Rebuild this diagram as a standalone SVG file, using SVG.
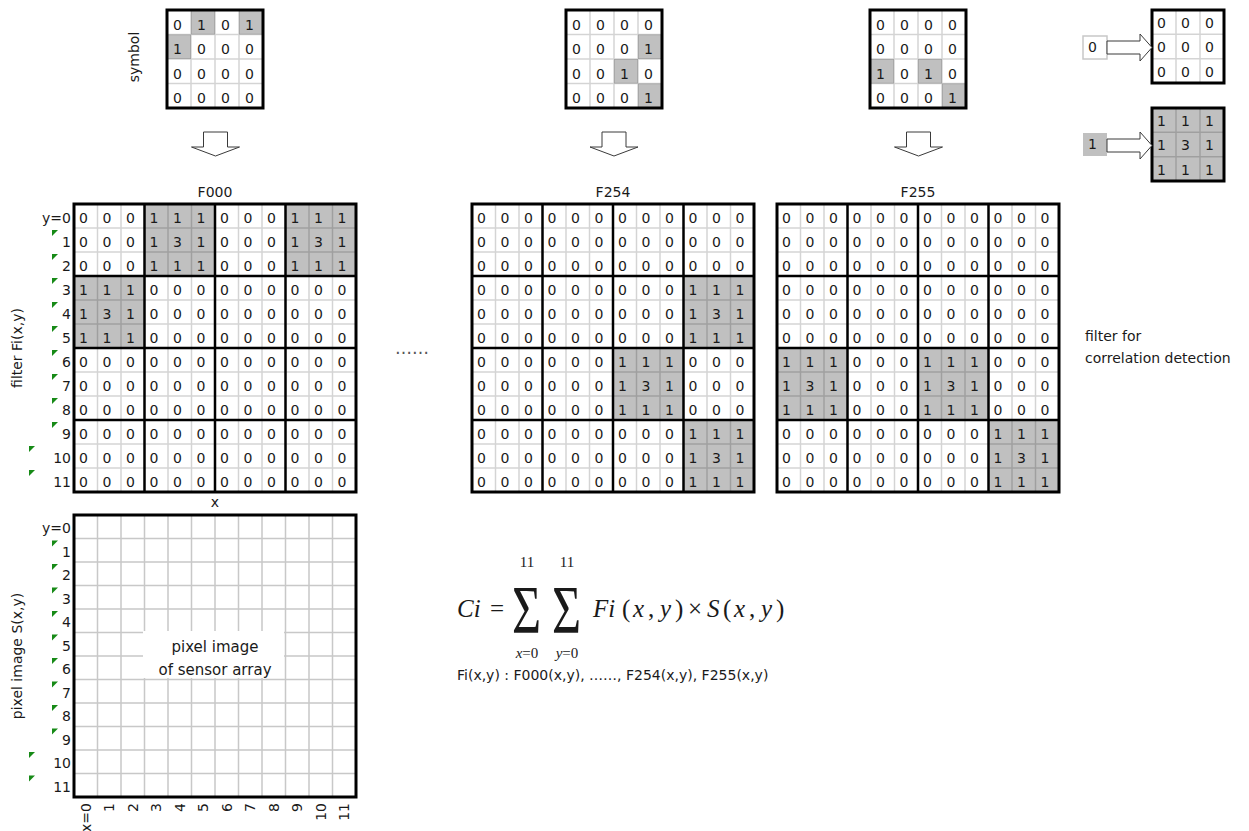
<svg xmlns="http://www.w3.org/2000/svg" width="1249" height="831" viewBox="0 0 1249 831">
<style>
text{font-family:"DejaVu Sans","Liberation Sans",sans-serif;fill:#1a1a1a;font-size:14px}
.thin{fill:none;stroke:#000;stroke-opacity:.17;stroke-width:1.5}
.thick{fill:none;stroke:#000;stroke-width:2.5}
.border{fill:none;stroke:#000;stroke-width:3}
.sh{fill:#c0c0c0}
.arr{fill:#fff;stroke:#3a3a3a;stroke-width:1}
.m{font-family:"Liberation Serif","Times New Roman",serif;font-size:25px}
.ms{font-family:"Liberation Serif","Times New Roman",serif;font-size:15px}
.sig{font-family:"Liberation Serif","Times New Roman",serif;font-size:50px}
.i{font-style:italic}
.pg{fill:none;stroke:#c8c8c8;stroke-width:1.5}
.tri{fill:#178a17}
.c{text-anchor:middle}
.e{text-anchor:end}
.big{font-size:15px}
</style>
<defs>
<path id="fthin" class="thin" d="M23.5 0V288M47 0V288M94 0V288M117.5 0V288M164.5 0V288M188 0V288M235 0V288M258.5 0V288M0 24H282M0 48H282M0 96H282M0 120H282M0 168H282M0 192H282M0 240H282M0 264H282"/>
<path id="fthick" class="thick" d="M70.5 0V288M141 0V288M211.5 0V288M0 72H282M0 144H282M0 216H282"/>
<rect id="fborder" class="border" width="282" height="288"/>
<path id="sthin" class="thin" d="M24 0V98M48 0V98M72 0V98M0 24.5H96M0 49H96M0 73.5H96"/>
<rect id="sborder" class="border" width="96" height="98"/>
<path id="kthin" class="thin" d="M24 0V73M48 0V73M0 24.3H72M0 48.7H72"/>
<rect id="kborder" class="border" width="72" height="73"/>
<path id="tri" class="tri" d="M0 0h6L0 6z"/>
</defs>

<g id="symbol-label"><text class="c" transform="translate(139,57) rotate(-90)">symbol</text></g>

<g id="symbol-F000" transform="translate(167,10)">
<rect class="sh" x="24" y="0" width="24" height="24.5"/>
<rect class="sh" x="72" y="0" width="24" height="24.5"/>
<rect class="sh" x="0" y="24.5" width="24" height="24.5"/>
<use href="#sthin"/><use href="#sborder"/>
<text x="6 30 54 78" y="19.5">0101</text>
<text x="6 30 54 78" y="44">1000</text>
<text x="6 30 54 78" y="68.5">0000</text>
<text x="6 30 54 78" y="93">0000</text>
</g>

<g id="symbol-F254" transform="translate(566,10)">
<rect class="sh" x="72" y="24.5" width="24" height="24.5"/>
<rect class="sh" x="48" y="49" width="24" height="24.5"/>
<rect class="sh" x="72" y="73.5" width="24" height="24.5"/>
<use href="#sthin"/><use href="#sborder"/>
<text x="6 30 54 78" y="19.5">0000</text>
<text x="6 30 54 78" y="44">0001</text>
<text x="6 30 54 78" y="68.5">0010</text>
<text x="6 30 54 78" y="93">0001</text>
</g>

<g id="symbol-F255" transform="translate(870,10)">
<rect class="sh" x="0" y="49" width="24" height="24.5"/>
<rect class="sh" x="48" y="49" width="24" height="24.5"/>
<rect class="sh" x="72" y="73.5" width="24" height="24.5"/>
<use href="#sthin"/><use href="#sborder"/>
<text x="6 30 54 78" y="19.5">0000</text>
<text x="6 30 54 78" y="44">0000</text>
<text x="6 30 54 78" y="68.5">1010</text>
<text x="6 30 54 78" y="93">0001</text>
</g>

<g id="bit0">
<rect x="1083" y="36" width="24" height="23" fill="#fff" stroke="#c8c8c8" stroke-width="1.5"/>
<text x="1088" y="52">0</text>
</g>
<g id="kernel0" transform="translate(1152,10)">
<use href="#kthin"/><use href="#kborder"/>
<text x="5 29 53" y="18">000</text>
<text x="5 29 53" y="42.3">000</text>
<text x="5 29 53" y="66.7">000</text>
</g>
<g id="bit1">
<rect x="1083" y="133" width="24" height="23" class="sh"/>
<text x="1088" y="149">1</text>
</g>
<g id="kernel1" transform="translate(1152,108)">
<rect class="sh" width="72" height="73"/>
<use href="#kthin"/><use href="#kborder"/>
<text x="5 29 53" y="18">111</text>
<text x="5 29 53" y="42.3">131</text>
<text x="5 29 53" y="66.7">111</text>
</g>

<g id="connectors">
<polygon class="arr" points="203.5,132 227.5,132 227.5,147 239.5,147 215.5,156 191.5,147 203.5,147"/>
<polygon class="arr" points="602,132 626,132 626,147 638,147 614,156 590,147 602,147"/>
<polygon class="arr" points="906.5,132 930.5,132 930.5,147 942.5,147 918.5,156 894.5,147 906.5,147"/>
<polygon class="arr" points="1107,41 1140,41 1140,34 1152,47.5 1140,61 1140,54 1107,54"/>
<polygon class="arr" points="1107,139 1140,139 1140,132 1152,145.5 1140,159 1140,152 1107,152"/>
</g>

<g id="filter-label"><text class="c" transform="translate(22,348) rotate(-90)">filter Fi(x,y)</text></g>
<g id="F000-rowlabels">
<text class="e" x="71" y="223">y=0</text>
<text class="e" x="71" y="247">1</text>
<text class="e" x="71" y="271">2</text>
<text class="e" x="71" y="295">3</text>
<text class="e" x="71" y="319">4</text>
<text class="e" x="71" y="343">5</text>
<text class="e" x="71" y="367">6</text>
<text class="e" x="71" y="391">7</text>
<text class="e" x="71" y="415">8</text>
<text class="e" x="71" y="439">9</text>
<text class="e" x="71" y="463">10</text>
<text class="e" x="71" y="487">11</text>
<use href="#tri" x="52" y="230"/><use href="#tri" x="52" y="254"/><use href="#tri" x="52" y="278"/>
<use href="#tri" x="52" y="302"/><use href="#tri" x="52" y="326"/><use href="#tri" x="52" y="350"/>
<use href="#tri" x="52" y="374"/><use href="#tri" x="52" y="398"/><use href="#tri" x="52" y="422"/>
<use href="#tri" x="29" y="446"/><use href="#tri" x="29" y="470"/>
</g>

<g id="F000">
<text class="c" x="215" y="197">F000</text>
<g transform="translate(74,204)">
<rect class="sh" x="70.5" y="0" width="70.5" height="72"/>
<rect class="sh" x="211.5" y="0" width="70.5" height="72"/>
<rect class="sh" x="0" y="72" width="70.5" height="72"/>
<use href="#fthin"/><use href="#fthick"/><use href="#fborder"/>
<text x="5 28.5 52 75.5 99 122.5 146 169.5 193 216.5 240 263.5" y="19">000111000111</text>
<text x="5 28.5 52 75.5 99 122.5 146 169.5 193 216.5 240 263.5" y="43">000131000131</text>
<text x="5 28.5 52 75.5 99 122.5 146 169.5 193 216.5 240 263.5" y="67">000111000111</text>
<text x="5 28.5 52 75.5 99 122.5 146 169.5 193 216.5 240 263.5" y="91">111000000000</text>
<text x="5 28.5 52 75.5 99 122.5 146 169.5 193 216.5 240 263.5" y="115">131000000000</text>
<text x="5 28.5 52 75.5 99 122.5 146 169.5 193 216.5 240 263.5" y="139">111000000000</text>
<text x="5 28.5 52 75.5 99 122.5 146 169.5 193 216.5 240 263.5" y="163">000000000000</text>
<text x="5 28.5 52 75.5 99 122.5 146 169.5 193 216.5 240 263.5" y="187">000000000000</text>
<text x="5 28.5 52 75.5 99 122.5 146 169.5 193 216.5 240 263.5" y="211">000000000000</text>
<text x="5 28.5 52 75.5 99 122.5 146 169.5 193 216.5 240 263.5" y="235">000000000000</text>
<text x="5 28.5 52 75.5 99 122.5 146 169.5 193 216.5 240 263.5" y="259">000000000000</text>
<text x="5 28.5 52 75.5 99 122.5 146 169.5 193 216.5 240 263.5" y="283">000000000000</text>
</g>
<text class="c" x="215" y="507">x</text>
</g>

<g id="dots"><text class="c" x="412" y="354" style="font-size:17px;fill:#555">……</text></g>

<g id="F254">
<text class="c" x="613" y="197">F254</text>
<g transform="translate(472,204)">
<rect class="sh" x="211.5" y="72" width="70.5" height="72"/>
<rect class="sh" x="141" y="144" width="70.5" height="72"/>
<rect class="sh" x="211.5" y="216" width="70.5" height="72"/>
<use href="#fthin"/><use href="#fthick"/><use href="#fborder"/>
<text x="5 28.5 52 75.5 99 122.5 146 169.5 193 216.5 240 263.5" y="19">000000000000</text>
<text x="5 28.5 52 75.5 99 122.5 146 169.5 193 216.5 240 263.5" y="43">000000000000</text>
<text x="5 28.5 52 75.5 99 122.5 146 169.5 193 216.5 240 263.5" y="67">000000000000</text>
<text x="5 28.5 52 75.5 99 122.5 146 169.5 193 216.5 240 263.5" y="91">000000000111</text>
<text x="5 28.5 52 75.5 99 122.5 146 169.5 193 216.5 240 263.5" y="115">000000000131</text>
<text x="5 28.5 52 75.5 99 122.5 146 169.5 193 216.5 240 263.5" y="139">000000000111</text>
<text x="5 28.5 52 75.5 99 122.5 146 169.5 193 216.5 240 263.5" y="163">000000111000</text>
<text x="5 28.5 52 75.5 99 122.5 146 169.5 193 216.5 240 263.5" y="187">000000131000</text>
<text x="5 28.5 52 75.5 99 122.5 146 169.5 193 216.5 240 263.5" y="211">000000111000</text>
<text x="5 28.5 52 75.5 99 122.5 146 169.5 193 216.5 240 263.5" y="235">000000000111</text>
<text x="5 28.5 52 75.5 99 122.5 146 169.5 193 216.5 240 263.5" y="259">000000000131</text>
<text x="5 28.5 52 75.5 99 122.5 146 169.5 193 216.5 240 263.5" y="283">000000000111</text>
</g>
</g>

<g id="F255">
<text class="c" x="918" y="197">F255</text>
<g transform="translate(777,204)">
<rect class="sh" x="0" y="144" width="70.5" height="72"/>
<rect class="sh" x="141" y="144" width="70.5" height="72"/>
<rect class="sh" x="211.5" y="216" width="70.5" height="72"/>
<use href="#fthin"/><use href="#fthick"/><use href="#fborder"/>
<text x="5 28.5 52 75.5 99 122.5 146 169.5 193 216.5 240 263.5" y="19">000000000000</text>
<text x="5 28.5 52 75.5 99 122.5 146 169.5 193 216.5 240 263.5" y="43">000000000000</text>
<text x="5 28.5 52 75.5 99 122.5 146 169.5 193 216.5 240 263.5" y="67">000000000000</text>
<text x="5 28.5 52 75.5 99 122.5 146 169.5 193 216.5 240 263.5" y="91">000000000000</text>
<text x="5 28.5 52 75.5 99 122.5 146 169.5 193 216.5 240 263.5" y="115">000000000000</text>
<text x="5 28.5 52 75.5 99 122.5 146 169.5 193 216.5 240 263.5" y="139">000000000000</text>
<text x="5 28.5 52 75.5 99 122.5 146 169.5 193 216.5 240 263.5" y="163">111000111000</text>
<text x="5 28.5 52 75.5 99 122.5 146 169.5 193 216.5 240 263.5" y="187">131000131000</text>
<text x="5 28.5 52 75.5 99 122.5 146 169.5 193 216.5 240 263.5" y="211">111000111000</text>
<text x="5 28.5 52 75.5 99 122.5 146 169.5 193 216.5 240 263.5" y="235">000000000111</text>
<text x="5 28.5 52 75.5 99 122.5 146 169.5 193 216.5 240 263.5" y="259">000000000131</text>
<text x="5 28.5 52 75.5 99 122.5 146 169.5 193 216.5 240 263.5" y="283">000000000111</text>
</g>
</g>

<g id="filter-note">
<text x="1085" y="341">filter for</text>
<text x="1085" y="363">correlation detection</text>
</g>

<g id="pixel-label"><text class="c" transform="translate(22,656) rotate(-90)">pixel image S(x,y)</text></g>
<g id="pixel-rowlabels">
<text class="e" x="71" y="533">y=0</text>
<text class="e" x="71" y="556.5">1</text>
<text class="e" x="71" y="580">2</text>
<text class="e" x="71" y="603.5">3</text>
<text class="e" x="71" y="627">4</text>
<text class="e" x="71" y="650.5">5</text>
<text class="e" x="71" y="674">6</text>
<text class="e" x="71" y="697.5">7</text>
<text class="e" x="71" y="721">8</text>
<text class="e" x="71" y="744.5">9</text>
<text class="e" x="71" y="768">10</text>
<text class="e" x="71" y="791.5">11</text>
<use href="#tri" x="52" y="540.5"/><use href="#tri" x="52" y="564"/><use href="#tri" x="52" y="587.5"/>
<use href="#tri" x="52" y="611"/><use href="#tri" x="52" y="634.5"/><use href="#tri" x="52" y="658"/>
<use href="#tri" x="52" y="681.5"/><use href="#tri" x="52" y="705"/><use href="#tri" x="52" y="728.5"/>
<use href="#tri" x="29" y="752"/><use href="#tri" x="29" y="775.5"/>
</g>
<g id="pixel-grid">
<g transform="translate(74,515)">
<path class="pg" d="M23.5 0V282M47 0V282M70.5 0V282M94 0V282M117.5 0V282M141 0V282M164.5 0V282M188 0V282M211.5 0V282M235 0V282M258.5 0V282M0 23.5H282M0 47H282M0 70.5H282M0 94H282M0 117.5H282M0 141H282M0 164.5H282M0 188H282M0 211.5H282M0 235H282M0 258.5H282"/>
<rect x="69" y="116" width="141" height="47" fill="#fff"/>
<rect class="border" width="282" height="282"/>
</g>
<text class="c big" x="215" y="652">pixel image</text>
<text class="c big" x="215" y="675">of sensor array</text>
</g>
<g id="x-axis-labels">
<text class="e" transform="translate(90.75,803) rotate(-90)">x=0</text>
<text class="e" transform="translate(114.25,803) rotate(-90)">1</text>
<text class="e" transform="translate(137.75,803) rotate(-90)">2</text>
<text class="e" transform="translate(161.25,803) rotate(-90)">3</text>
<text class="e" transform="translate(184.75,803) rotate(-90)">4</text>
<text class="e" transform="translate(208.25,803) rotate(-90)">5</text>
<text class="e" transform="translate(231.75,803) rotate(-90)">6</text>
<text class="e" transform="translate(255.25,803) rotate(-90)">7</text>
<text class="e" transform="translate(278.75,803) rotate(-90)">8</text>
<text class="e" transform="translate(302.25,803) rotate(-90)">9</text>
<text class="e" transform="translate(325.75,803) rotate(-90)">10</text>
<text class="e" transform="translate(349.25,803) rotate(-90)">11</text>
</g>

<g id="formula">
<text class="m i" x="457" y="617">Ci</text>
<text class="m" x="490" y="617">=</text>
<text class="sig" transform="translate(512,632) scale(1,1.36)">Σ</text>
<text class="ms c" x="527" y="567">11</text>
<text class="ms c" x="527" y="658"><tspan class="i">x</tspan>=0</text>
<text class="sig" transform="translate(552,632) scale(1,1.36)">Σ</text>
<text class="ms c" x="567" y="567">11</text>
<text class="ms c" x="567" y="658"><tspan class="i">y</tspan>=0</text>
<text class="m i" x="593" y="617">Fi</text>
<text class="m" x="622" y="617">(</text>
<text class="m i" x="633" y="617">x</text>
<text class="m" x="648" y="617">,</text>
<text class="m i" x="660" y="617">y</text>
<text class="m" x="675" y="617">)</text>
<text class="m" x="688" y="617">×</text>
<text class="m i" x="707" y="617">S</text>
<text class="m" x="723" y="617">(</text>
<text class="m i" x="734" y="617">x</text>
<text class="m" x="749" y="617">,</text>
<text class="m i" x="761" y="617">y</text>
<text class="m" x="776" y="617">)</text>
<text x="457" y="680">Fi(x,y) : F000(x,y), ……, F254(x,y), F255(x,y)</text>
</g>
</svg>
